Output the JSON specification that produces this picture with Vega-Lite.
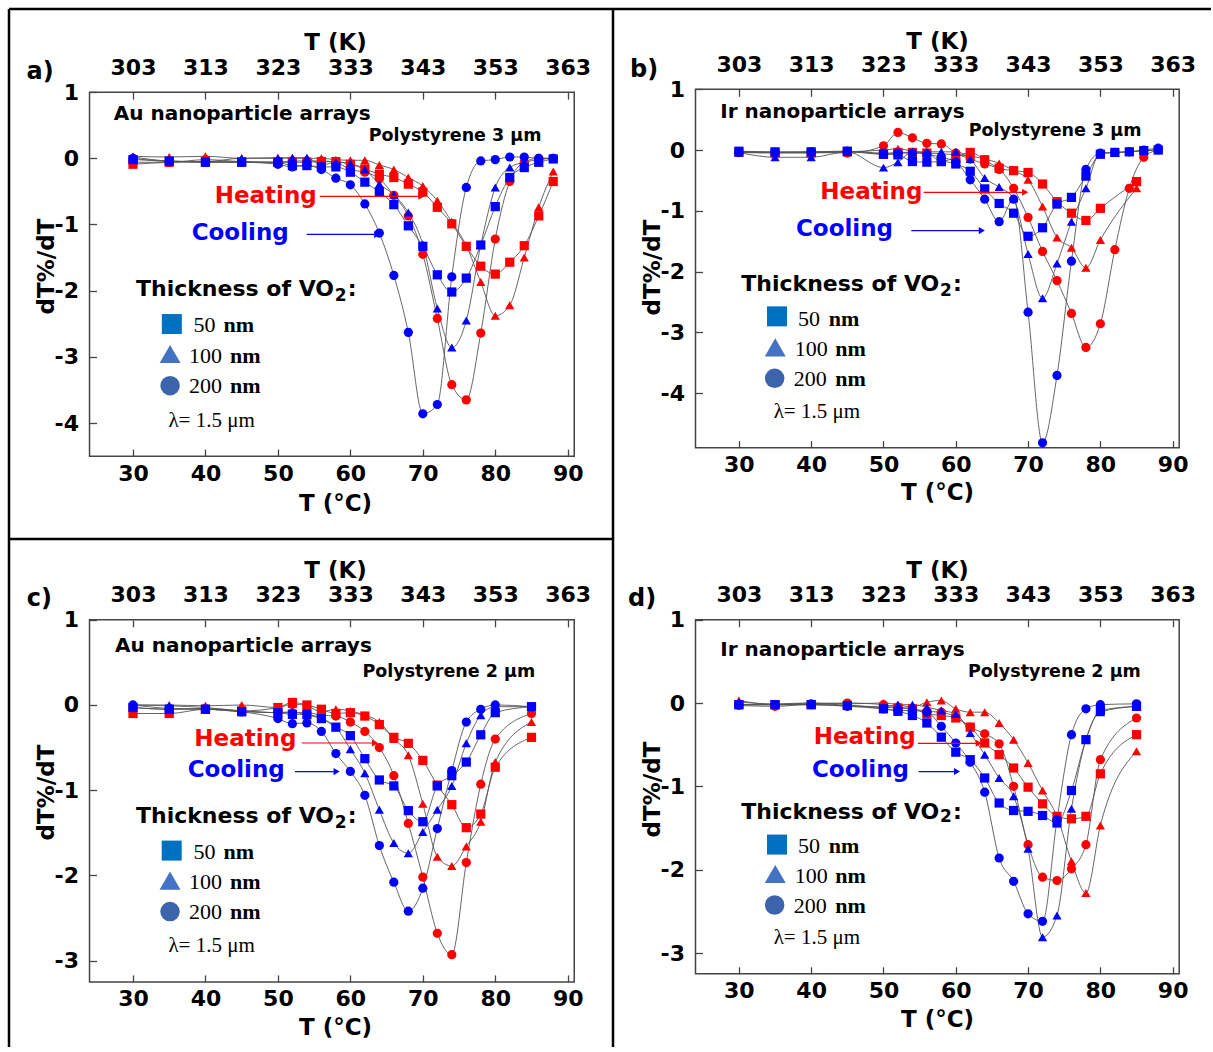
{
"$schema":"https://vega.github.io/schema/vega-lite/v6.json",
"padding":{"left":7,"top":7,"right":0,"bottom":0},
"bounds":"flush",
"spacing":0,
"columns":2,
"config":{
 "view":{"stroke":null},
 "font":"DejaVu Sans",
 "text":{"font":"DejaVu Sans","fontWeight":"bold","align":"left","baseline":"middle","color":"black"},
 "axis":{"domain":false,"grid":false,"labelFont":"DejaVu Sans","labelFontWeight":"bold","labelFontSize":22,"labelColor":"black","titleFont":"DejaVu Sans","titleFontWeight":"bold","titleFontSize":23,"titleColor":"black","tickColor":"#444","tickWidth":1.3,"tickSize":-7,"labelPadding":18,"titleBaseline":"middle","titleAlign":"center","labelFlush":false,"labelOverlap":false,"labelBound":false},
 "axisTop":{"labelPadding":20},
 "axisBottom":{"labelPadding":14}
},
"datasets":{"pts":[
{"p":"a","m":"H","t":50,"T":30,"v":-0.09},{"p":"a","m":"H","t":50,"T":35,"v":-0.06},{"p":"a","m":"H","t":50,"T":40,"v":-0.05},{"p":"a","m":"H","t":50,"T":45,"v":-0.05},{"p":"a","m":"H","t":50,"T":50,"v":-0.06},{"p":"a","m":"H","t":50,"T":52,"v":-0.06},{"p":"a","m":"H","t":50,"T":54,"v":-0.06},{"p":"a","m":"H","t":50,"T":56,"v":-0.05},{"p":"a","m":"H","t":50,"T":58,"v":-0.05},{"p":"a","m":"H","t":50,"T":60,"v":-0.09},{"p":"a","m":"H","t":50,"T":62,"v":-0.16},{"p":"a","m":"H","t":50,"T":64,"v":-0.24},{"p":"a","m":"H","t":50,"T":66,"v":-0.29},{"p":"a","m":"H","t":50,"T":68,"v":-0.39},{"p":"a","m":"H","t":50,"T":70,"v":-0.51},{"p":"a","m":"H","t":50,"T":72,"v":-0.74},{"p":"a","m":"H","t":50,"T":74,"v":-0.99},{"p":"a","m":"H","t":50,"T":76,"v":-1.33},{"p":"a","m":"H","t":50,"T":78,"v":-1.63},{"p":"a","m":"H","t":50,"T":80,"v":-1.75},{"p":"a","m":"H","t":50,"T":82,"v":-1.57},{"p":"a","m":"H","t":50,"T":84,"v":-1.32},{"p":"a","m":"H","t":50,"T":86,"v":-0.87},{"p":"a","m":"H","t":50,"T":88,"v":-0.35},
{"p":"a","m":"H","t":100,"T":30,"v":0.03},{"p":"a","m":"H","t":100,"T":35,"v":0.02},{"p":"a","m":"H","t":100,"T":40,"v":0.03},{"p":"a","m":"H","t":100,"T":45,"v":0.0},{"p":"a","m":"H","t":100,"T":50,"v":0.01},{"p":"a","m":"H","t":100,"T":52,"v":0.0},{"p":"a","m":"H","t":100,"T":54,"v":0.0},{"p":"a","m":"H","t":100,"T":56,"v":0.0},{"p":"a","m":"H","t":100,"T":58,"v":-0.02},{"p":"a","m":"H","t":100,"T":60,"v":-0.03},{"p":"a","m":"H","t":100,"T":62,"v":-0.03},{"p":"a","m":"H","t":100,"T":64,"v":-0.1},{"p":"a","m":"H","t":100,"T":66,"v":-0.17},{"p":"a","m":"H","t":100,"T":68,"v":-0.29},{"p":"a","m":"H","t":100,"T":70,"v":-0.42},{"p":"a","m":"H","t":100,"T":72,"v":-0.64},{"p":"a","m":"H","t":100,"T":74,"v":-0.96},{"p":"a","m":"H","t":100,"T":76,"v":-1.32},{"p":"a","m":"H","t":100,"T":78,"v":-1.87},{"p":"a","m":"H","t":100,"T":80,"v":-2.38},{"p":"a","m":"H","t":100,"T":82,"v":-2.22},{"p":"a","m":"H","t":100,"T":84,"v":-1.5},{"p":"a","m":"H","t":100,"T":86,"v":-0.74},{"p":"a","m":"H","t":100,"T":88,"v":-0.2},
{"p":"a","m":"H","t":200,"T":30,"v":-0.06},{"p":"a","m":"H","t":200,"T":35,"v":-0.06},{"p":"a","m":"H","t":200,"T":40,"v":-0.02},{"p":"a","m":"H","t":200,"T":45,"v":-0.05},{"p":"a","m":"H","t":200,"T":50,"v":-0.06},{"p":"a","m":"H","t":200,"T":52,"v":-0.04},{"p":"a","m":"H","t":200,"T":54,"v":-0.04},{"p":"a","m":"H","t":200,"T":56,"v":-0.04},{"p":"a","m":"H","t":200,"T":58,"v":-0.06},{"p":"a","m":"H","t":200,"T":60,"v":-0.17},{"p":"a","m":"H","t":200,"T":62,"v":-0.21},{"p":"a","m":"H","t":200,"T":64,"v":-0.31},{"p":"a","m":"H","t":200,"T":66,"v":-0.56},{"p":"a","m":"H","t":200,"T":68,"v":-0.87},{"p":"a","m":"H","t":200,"T":70,"v":-1.45},{"p":"a","m":"H","t":200,"T":72,"v":-2.42},{"p":"a","m":"H","t":200,"T":74,"v":-3.42},{"p":"a","m":"H","t":200,"T":76,"v":-3.65},{"p":"a","m":"H","t":200,"T":78,"v":-2.64},{"p":"a","m":"H","t":200,"T":80,"v":-1.22},{"p":"a","m":"H","t":200,"T":82,"v":-0.35},{"p":"a","m":"H","t":200,"T":84,"v":-0.06},{"p":"a","m":"H","t":200,"T":86,"v":0.0},{"p":"a","m":"H","t":200,"T":88,"v":0.0},
{"p":"a","m":"C","t":50,"T":30,"v":-0.02},{"p":"a","m":"C","t":50,"T":35,"v":-0.04},{"p":"a","m":"C","t":50,"T":40,"v":-0.06},{"p":"a","m":"C","t":50,"T":45,"v":-0.06},{"p":"a","m":"C","t":50,"T":50,"v":-0.06},{"p":"a","m":"C","t":50,"T":52,"v":-0.11},{"p":"a","m":"C","t":50,"T":54,"v":-0.11},{"p":"a","m":"C","t":50,"T":56,"v":-0.13},{"p":"a","m":"C","t":50,"T":58,"v":-0.13},{"p":"a","m":"C","t":50,"T":60,"v":-0.21},{"p":"a","m":"C","t":50,"T":62,"v":-0.36},{"p":"a","m":"C","t":50,"T":64,"v":-0.51},{"p":"a","m":"C","t":50,"T":66,"v":-0.7},{"p":"a","m":"C","t":50,"T":68,"v":-1.02},{"p":"a","m":"C","t":50,"T":70,"v":-1.33},{"p":"a","m":"C","t":50,"T":72,"v":-1.76},{"p":"a","m":"C","t":50,"T":74,"v":-2.02},{"p":"a","m":"C","t":50,"T":76,"v":-1.81},{"p":"a","m":"C","t":50,"T":78,"v":-1.31},{"p":"a","m":"C","t":50,"T":80,"v":-0.73},{"p":"a","m":"C","t":50,"T":82,"v":-0.29},{"p":"a","m":"C","t":50,"T":84,"v":-0.14},{"p":"a","m":"C","t":50,"T":86,"v":-0.06},{"p":"a","m":"C","t":50,"T":88,"v":-0.01},
{"p":"a","m":"C","t":100,"T":30,"v":0.02},{"p":"a","m":"C","t":100,"T":35,"v":-0.04},{"p":"a","m":"C","t":100,"T":40,"v":-0.05},{"p":"a","m":"C","t":100,"T":45,"v":0.0},{"p":"a","m":"C","t":100,"T":50,"v":0.0},{"p":"a","m":"C","t":100,"T":52,"v":0.01},{"p":"a","m":"C","t":100,"T":54,"v":0.01},{"p":"a","m":"C","t":100,"T":56,"v":-0.1},{"p":"a","m":"C","t":100,"T":58,"v":-0.06},{"p":"a","m":"C","t":100,"T":60,"v":-0.08},{"p":"a","m":"C","t":100,"T":62,"v":-0.17},{"p":"a","m":"C","t":100,"T":64,"v":-0.39},{"p":"a","m":"C","t":100,"T":66,"v":-0.55},{"p":"a","m":"C","t":100,"T":68,"v":-0.82},{"p":"a","m":"C","t":100,"T":70,"v":-1.3},{"p":"a","m":"C","t":100,"T":72,"v":-2.27},{"p":"a","m":"C","t":100,"T":74,"v":-2.86},{"p":"a","m":"C","t":100,"T":76,"v":-2.45},{"p":"a","m":"C","t":100,"T":78,"v":-1.31},{"p":"a","m":"C","t":100,"T":80,"v":-0.44},{"p":"a","m":"C","t":100,"T":82,"v":-0.14},{"p":"a","m":"C","t":100,"T":84,"v":-0.06},{"p":"a","m":"C","t":100,"T":86,"v":-0.02},{"p":"a","m":"C","t":100,"T":88,"v":0.0},
{"p":"a","m":"C","t":200,"T":30,"v":0.0},{"p":"a","m":"C","t":200,"T":35,"v":-0.05},{"p":"a","m":"C","t":200,"T":40,"v":-0.06},{"p":"a","m":"C","t":200,"T":45,"v":-0.06},{"p":"a","m":"C","t":200,"T":50,"v":-0.09},{"p":"a","m":"C","t":200,"T":52,"v":-0.13},{"p":"a","m":"C","t":200,"T":54,"v":-0.11},{"p":"a","m":"C","t":200,"T":56,"v":-0.17},{"p":"a","m":"C","t":200,"T":58,"v":-0.3},{"p":"a","m":"C","t":200,"T":60,"v":-0.4},{"p":"a","m":"C","t":200,"T":62,"v":-0.69},{"p":"a","m":"C","t":200,"T":64,"v":-1.13},{"p":"a","m":"C","t":200,"T":66,"v":-1.77},{"p":"a","m":"C","t":200,"T":68,"v":-2.63},{"p":"a","m":"C","t":200,"T":70,"v":-3.86},{"p":"a","m":"C","t":200,"T":72,"v":-3.72},{"p":"a","m":"C","t":200,"T":74,"v":-1.79},{"p":"a","m":"C","t":200,"T":76,"v":-0.44},{"p":"a","m":"C","t":200,"T":78,"v":-0.04},{"p":"a","m":"C","t":200,"T":80,"v":-0.02},{"p":"a","m":"C","t":200,"T":82,"v":0.02},{"p":"a","m":"C","t":200,"T":84,"v":0.02},{"p":"a","m":"C","t":200,"T":86,"v":0.0},{"p":"a","m":"C","t":200,"T":88,"v":0.0},
{"p":"b","m":"H","t":50,"T":30,"v":-0.04},{"p":"b","m":"H","t":50,"T":35,"v":-0.05},{"p":"b","m":"H","t":50,"T":40,"v":-0.05},{"p":"b","m":"H","t":50,"T":45,"v":-0.03},{"p":"b","m":"H","t":50,"T":50,"v":-0.07},{"p":"b","m":"H","t":50,"T":52,"v":-0.04},{"p":"b","m":"H","t":50,"T":54,"v":-0.04},{"p":"b","m":"H","t":50,"T":56,"v":-0.05},{"p":"b","m":"H","t":50,"T":58,"v":-0.19},{"p":"b","m":"H","t":50,"T":60,"v":-0.12},{"p":"b","m":"H","t":50,"T":62,"v":-0.04},{"p":"b","m":"H","t":50,"T":64,"v":-0.16},{"p":"b","m":"H","t":50,"T":66,"v":-0.3},{"p":"b","m":"H","t":50,"T":68,"v":-0.34},{"p":"b","m":"H","t":50,"T":70,"v":-0.37},{"p":"b","m":"H","t":50,"T":72,"v":-0.56},{"p":"b","m":"H","t":50,"T":74,"v":-0.85},{"p":"b","m":"H","t":50,"T":76,"v":-1.04},{"p":"b","m":"H","t":50,"T":78,"v":-1.16},{"p":"b","m":"H","t":50,"T":80,"v":-0.96},{"p":"b","m":"H","t":50,"T":85,"v":-0.52},
{"p":"b","m":"H","t":100,"T":30,"v":-0.02},{"p":"b","m":"H","t":100,"T":35,"v":-0.04},{"p":"b","m":"H","t":100,"T":40,"v":-0.04},{"p":"b","m":"H","t":100,"T":45,"v":-0.03},{"p":"b","m":"H","t":100,"T":50,"v":0.0},{"p":"b","m":"H","t":100,"T":52,"v":0.02},{"p":"b","m":"H","t":100,"T":54,"v":-0.02},{"p":"b","m":"H","t":100,"T":56,"v":-0.05},{"p":"b","m":"H","t":100,"T":58,"v":-0.06},{"p":"b","m":"H","t":100,"T":60,"v":-0.08},{"p":"b","m":"H","t":100,"T":62,"v":-0.1},{"p":"b","m":"H","t":100,"T":64,"v":-0.15},{"p":"b","m":"H","t":100,"T":66,"v":-0.22},{"p":"b","m":"H","t":100,"T":68,"v":-0.34},{"p":"b","m":"H","t":100,"T":70,"v":-0.49},{"p":"b","m":"H","t":100,"T":72,"v":-0.93},{"p":"b","m":"H","t":100,"T":74,"v":-1.44},{"p":"b","m":"H","t":100,"T":76,"v":-1.61},{"p":"b","m":"H","t":100,"T":78,"v":-1.94},{"p":"b","m":"H","t":100,"T":80,"v":-1.48},{"p":"b","m":"H","t":100,"T":85,"v":-0.63},
{"p":"b","m":"H","t":200,"T":30,"v":-0.03},{"p":"b","m":"H","t":200,"T":35,"v":-0.04},{"p":"b","m":"H","t":200,"T":40,"v":-0.04},{"p":"b","m":"H","t":200,"T":45,"v":-0.05},{"p":"b","m":"H","t":200,"T":50,"v":0.07},{"p":"b","m":"H","t":200,"T":52,"v":0.29},{"p":"b","m":"H","t":200,"T":54,"v":0.2},{"p":"b","m":"H","t":200,"T":56,"v":0.11},{"p":"b","m":"H","t":200,"T":58,"v":0.1},{"p":"b","m":"H","t":200,"T":60,"v":-0.05},{"p":"b","m":"H","t":200,"T":62,"v":-0.15},{"p":"b","m":"H","t":200,"T":64,"v":-0.23},{"p":"b","m":"H","t":200,"T":66,"v":-0.32},{"p":"b","m":"H","t":200,"T":68,"v":-0.63},{"p":"b","m":"H","t":200,"T":70,"v":-1.11},{"p":"b","m":"H","t":200,"T":72,"v":-1.67},{"p":"b","m":"H","t":200,"T":74,"v":-2.15},{"p":"b","m":"H","t":200,"T":76,"v":-2.69},{"p":"b","m":"H","t":200,"T":78,"v":-3.25},{"p":"b","m":"H","t":200,"T":80,"v":-2.86},{"p":"b","m":"H","t":200,"T":82,"v":-1.64},{"p":"b","m":"H","t":200,"T":84,"v":-0.63},{"p":"b","m":"H","t":200,"T":86,"v":-0.12},{"p":"b","m":"H","t":200,"T":88,"v":0.0},
{"p":"b","m":"C","t":50,"T":30,"v":-0.02},{"p":"b","m":"C","t":50,"T":35,"v":-0.03},{"p":"b","m":"C","t":50,"T":40,"v":-0.03},{"p":"b","m":"C","t":50,"T":45,"v":-0.02},{"p":"b","m":"C","t":50,"T":50,"v":-0.07},{"p":"b","m":"C","t":50,"T":52,"v":-0.08},{"p":"b","m":"C","t":50,"T":54,"v":-0.19},{"p":"b","m":"C","t":50,"T":56,"v":-0.2},{"p":"b","m":"C","t":50,"T":58,"v":-0.19},{"p":"b","m":"C","t":50,"T":60,"v":-0.23},{"p":"b","m":"C","t":50,"T":62,"v":-0.35},{"p":"b","m":"C","t":50,"T":64,"v":-0.64},{"p":"b","m":"C","t":50,"T":66,"v":-0.88},{"p":"b","m":"C","t":50,"T":68,"v":-1.04},{"p":"b","m":"C","t":50,"T":70,"v":-1.42},{"p":"b","m":"C","t":50,"T":72,"v":-1.28},{"p":"b","m":"C","t":50,"T":74,"v":-0.89},{"p":"b","m":"C","t":50,"T":76,"v":-0.78},{"p":"b","m":"C","t":50,"T":78,"v":-0.43},{"p":"b","m":"C","t":50,"T":80,"v":-0.07},{"p":"b","m":"C","t":50,"T":82,"v":-0.04},{"p":"b","m":"C","t":50,"T":84,"v":-0.03},{"p":"b","m":"C","t":50,"T":86,"v":-0.01},{"p":"b","m":"C","t":50,"T":88,"v":0.0},
{"p":"b","m":"C","t":100,"T":30,"v":-0.04},{"p":"b","m":"C","t":100,"T":35,"v":-0.12},{"p":"b","m":"C","t":100,"T":40,"v":-0.12},{"p":"b","m":"C","t":100,"T":45,"v":-0.03},{"p":"b","m":"C","t":100,"T":50,"v":-0.29},{"p":"b","m":"C","t":100,"T":52,"v":-0.2},{"p":"b","m":"C","t":100,"T":54,"v":-0.03},{"p":"b","m":"C","t":100,"T":56,"v":-0.03},{"p":"b","m":"C","t":100,"T":58,"v":-0.03},{"p":"b","m":"C","t":100,"T":60,"v":-0.03},{"p":"b","m":"C","t":100,"T":62,"v":-0.15},{"p":"b","m":"C","t":100,"T":64,"v":-0.46},{"p":"b","m":"C","t":100,"T":66,"v":-0.61},{"p":"b","m":"C","t":100,"T":68,"v":-0.8},{"p":"b","m":"C","t":100,"T":70,"v":-1.71},{"p":"b","m":"C","t":100,"T":72,"v":-2.44},{"p":"b","m":"C","t":100,"T":74,"v":-1.87},{"p":"b","m":"C","t":100,"T":76,"v":-1.18},{"p":"b","m":"C","t":100,"T":78,"v":-0.63},{"p":"b","m":"C","t":100,"T":80,"v":-0.05},{"p":"b","m":"C","t":100,"T":82,"v":-0.04},{"p":"b","m":"C","t":100,"T":84,"v":-0.03},{"p":"b","m":"C","t":100,"T":86,"v":-0.01},{"p":"b","m":"C","t":100,"T":88,"v":0.0},
{"p":"b","m":"C","t":200,"T":30,"v":-0.04},{"p":"b","m":"C","t":200,"T":35,"v":-0.04},{"p":"b","m":"C","t":200,"T":40,"v":-0.03},{"p":"b","m":"C","t":200,"T":45,"v":-0.02},{"p":"b","m":"C","t":200,"T":50,"v":-0.05},{"p":"b","m":"C","t":200,"T":52,"v":-0.05},{"p":"b","m":"C","t":200,"T":54,"v":-0.05},{"p":"b","m":"C","t":200,"T":56,"v":-0.07},{"p":"b","m":"C","t":200,"T":58,"v":-0.12},{"p":"b","m":"C","t":200,"T":60,"v":-0.2},{"p":"b","m":"C","t":200,"T":62,"v":-0.49},{"p":"b","m":"C","t":200,"T":64,"v":-0.81},{"p":"b","m":"C","t":200,"T":66,"v":-1.18},{"p":"b","m":"C","t":200,"T":68,"v":-0.81},{"p":"b","m":"C","t":200,"T":70,"v":-2.67},{"p":"b","m":"C","t":200,"T":72,"v":-4.82},{"p":"b","m":"C","t":200,"T":74,"v":-3.71},{"p":"b","m":"C","t":200,"T":76,"v":-1.83},{"p":"b","m":"C","t":200,"T":78,"v":-0.32},{"p":"b","m":"C","t":200,"T":80,"v":-0.05},{"p":"b","m":"C","t":200,"T":82,"v":-0.04},{"p":"b","m":"C","t":200,"T":84,"v":-0.03},{"p":"b","m":"C","t":200,"T":86,"v":0.0},{"p":"b","m":"C","t":200,"T":88,"v":0.03},
{"p":"c","m":"H","t":50,"T":30,"v":-0.1},{"p":"c","m":"H","t":50,"T":35,"v":-0.1},{"p":"c","m":"H","t":50,"T":40,"v":-0.05},{"p":"c","m":"H","t":50,"T":45,"v":-0.07},{"p":"c","m":"H","t":50,"T":50,"v":-0.03},{"p":"c","m":"H","t":50,"T":52,"v":0.03},{"p":"c","m":"H","t":50,"T":54,"v":0.0},{"p":"c","m":"H","t":50,"T":56,"v":-0.05},{"p":"c","m":"H","t":50,"T":58,"v":-0.1},{"p":"c","m":"H","t":50,"T":60,"v":-0.09},{"p":"c","m":"H","t":50,"T":62,"v":-0.13},{"p":"c","m":"H","t":50,"T":64,"v":-0.23},{"p":"c","m":"H","t":50,"T":66,"v":-0.38},{"p":"c","m":"H","t":50,"T":68,"v":-0.45},{"p":"c","m":"H","t":50,"T":70,"v":-0.65},{"p":"c","m":"H","t":50,"T":72,"v":-0.94},{"p":"c","m":"H","t":50,"T":74,"v":-1.17},{"p":"c","m":"H","t":50,"T":76,"v":-1.44},{"p":"c","m":"H","t":50,"T":78,"v":-1.28},{"p":"c","m":"H","t":50,"T":80,"v":-0.73},{"p":"c","m":"H","t":50,"T":85,"v":-0.38},
{"p":"c","m":"H","t":100,"T":30,"v":0.0},{"p":"c","m":"H","t":100,"T":35,"v":0.0},{"p":"c","m":"H","t":100,"T":40,"v":-0.01},{"p":"c","m":"H","t":100,"T":45,"v":0.0},{"p":"c","m":"H","t":100,"T":50,"v":-0.03},{"p":"c","m":"H","t":100,"T":52,"v":0.01},{"p":"c","m":"H","t":100,"T":54,"v":-0.01},{"p":"c","m":"H","t":100,"T":56,"v":-0.08},{"p":"c","m":"H","t":100,"T":58,"v":-0.05},{"p":"c","m":"H","t":100,"T":60,"v":-0.07},{"p":"c","m":"H","t":100,"T":62,"v":-0.12},{"p":"c","m":"H","t":100,"T":64,"v":-0.2},{"p":"c","m":"H","t":100,"T":66,"v":-0.4},{"p":"c","m":"H","t":100,"T":68,"v":-0.59},{"p":"c","m":"H","t":100,"T":70,"v":-1.16},{"p":"c","m":"H","t":100,"T":72,"v":-1.78},{"p":"c","m":"H","t":100,"T":74,"v":-1.89},{"p":"c","m":"H","t":100,"T":76,"v":-1.66},{"p":"c","m":"H","t":100,"T":78,"v":-1.37},{"p":"c","m":"H","t":100,"T":80,"v":-0.67},{"p":"c","m":"H","t":100,"T":85,"v":-0.2},
{"p":"c","m":"H","t":200,"T":30,"v":-0.03},{"p":"c","m":"H","t":200,"T":35,"v":-0.05},{"p":"c","m":"H","t":200,"T":40,"v":-0.04},{"p":"c","m":"H","t":200,"T":45,"v":-0.07},{"p":"c","m":"H","t":200,"T":50,"v":-0.09},{"p":"c","m":"H","t":200,"T":52,"v":-0.09},{"p":"c","m":"H","t":200,"T":54,"v":-0.09},{"p":"c","m":"H","t":200,"T":56,"v":-0.12},{"p":"c","m":"H","t":200,"T":58,"v":-0.13},{"p":"c","m":"H","t":200,"T":60,"v":-0.2},{"p":"c","m":"H","t":200,"T":62,"v":-0.31},{"p":"c","m":"H","t":200,"T":64,"v":-0.5},{"p":"c","m":"H","t":200,"T":66,"v":-0.83},{"p":"c","m":"H","t":200,"T":68,"v":-1.39},{"p":"c","m":"H","t":200,"T":70,"v":-2.02},{"p":"c","m":"H","t":200,"T":72,"v":-2.68},{"p":"c","m":"H","t":200,"T":74,"v":-2.93},{"p":"c","m":"H","t":200,"T":76,"v":-1.85},{"p":"c","m":"H","t":200,"T":78,"v":-0.93},{"p":"c","m":"H","t":200,"T":80,"v":-0.4},{"p":"c","m":"H","t":200,"T":85,"v":-0.1},
{"p":"c","m":"C","t":50,"T":30,"v":-0.03},{"p":"c","m":"C","t":50,"T":35,"v":-0.05},{"p":"c","m":"C","t":50,"T":40,"v":-0.05},{"p":"c","m":"C","t":50,"T":45,"v":-0.08},{"p":"c","m":"C","t":50,"T":50,"v":-0.09},{"p":"c","m":"C","t":50,"T":52,"v":-0.11},{"p":"c","m":"C","t":50,"T":54,"v":-0.11},{"p":"c","m":"C","t":50,"T":56,"v":-0.16},{"p":"c","m":"C","t":50,"T":58,"v":-0.26},{"p":"c","m":"C","t":50,"T":60,"v":-0.36},{"p":"c","m":"C","t":50,"T":62,"v":-0.63},{"p":"c","m":"C","t":50,"T":64,"v":-0.88},{"p":"c","m":"C","t":50,"T":66,"v":-0.95},{"p":"c","m":"C","t":50,"T":68,"v":-1.24},{"p":"c","m":"C","t":50,"T":70,"v":-1.37},{"p":"c","m":"C","t":50,"T":72,"v":-0.95},{"p":"c","m":"C","t":50,"T":74,"v":-0.83},{"p":"c","m":"C","t":50,"T":76,"v":-0.67},{"p":"c","m":"C","t":50,"T":78,"v":-0.35},{"p":"c","m":"C","t":50,"T":80,"v":-0.09},{"p":"c","m":"C","t":50,"T":85,"v":-0.02},
{"p":"c","m":"C","t":100,"T":30,"v":0.0},{"p":"c","m":"C","t":100,"T":35,"v":-0.01},{"p":"c","m":"C","t":100,"T":40,"v":-0.03},{"p":"c","m":"C","t":100,"T":45,"v":-0.07},{"p":"c","m":"C","t":100,"T":50,"v":-0.09},{"p":"c","m":"C","t":100,"T":52,"v":-0.08},{"p":"c","m":"C","t":100,"T":54,"v":-0.12},{"p":"c","m":"C","t":100,"T":56,"v":-0.16},{"p":"c","m":"C","t":100,"T":58,"v":-0.26},{"p":"c","m":"C","t":100,"T":60,"v":-0.52},{"p":"c","m":"C","t":100,"T":62,"v":-0.8},{"p":"c","m":"C","t":100,"T":64,"v":-1.23},{"p":"c","m":"C","t":100,"T":66,"v":-1.62},{"p":"c","m":"C","t":100,"T":68,"v":-1.74},{"p":"c","m":"C","t":100,"T":70,"v":-1.49},{"p":"c","m":"C","t":100,"T":72,"v":-1.23},{"p":"c","m":"C","t":100,"T":74,"v":-0.95},{"p":"c","m":"C","t":100,"T":76,"v":-0.45},{"p":"c","m":"C","t":100,"T":78,"v":-0.12},{"p":"c","m":"C","t":100,"T":80,"v":-0.02},{"p":"c","m":"C","t":100,"T":85,"v":-0.02},
{"p":"c","m":"C","t":200,"T":30,"v":0.0},{"p":"c","m":"C","t":200,"T":35,"v":-0.04},{"p":"c","m":"C","t":200,"T":40,"v":-0.05},{"p":"c","m":"C","t":200,"T":45,"v":-0.08},{"p":"c","m":"C","t":200,"T":50,"v":-0.16},{"p":"c","m":"C","t":200,"T":52,"v":-0.22},{"p":"c","m":"C","t":200,"T":54,"v":-0.21},{"p":"c","m":"C","t":200,"T":56,"v":-0.31},{"p":"c","m":"C","t":200,"T":58,"v":-0.57},{"p":"c","m":"C","t":200,"T":60,"v":-0.78},{"p":"c","m":"C","t":200,"T":62,"v":-1.06},{"p":"c","m":"C","t":200,"T":64,"v":-1.65},{"p":"c","m":"C","t":200,"T":66,"v":-2.08},{"p":"c","m":"C","t":200,"T":68,"v":-2.42},{"p":"c","m":"C","t":200,"T":70,"v":-2.15},{"p":"c","m":"C","t":200,"T":72,"v":-1.45},{"p":"c","m":"C","t":200,"T":74,"v":-0.77},{"p":"c","m":"C","t":200,"T":76,"v":-0.2},{"p":"c","m":"C","t":200,"T":78,"v":-0.05},{"p":"c","m":"C","t":200,"T":80,"v":0.0},{"p":"c","m":"C","t":200,"T":85,"v":-0.02},
{"p":"d","m":"H","t":50,"T":30,"v":-0.02},{"p":"d","m":"H","t":50,"T":35,"v":-0.02},{"p":"d","m":"H","t":50,"T":40,"v":-0.02},{"p":"d","m":"H","t":50,"T":45,"v":-0.03},{"p":"d","m":"H","t":50,"T":50,"v":-0.05},{"p":"d","m":"H","t":50,"T":52,"v":-0.06},{"p":"d","m":"H","t":50,"T":54,"v":-0.07},{"p":"d","m":"H","t":50,"T":56,"v":-0.13},{"p":"d","m":"H","t":50,"T":58,"v":-0.15},{"p":"d","m":"H","t":50,"T":60,"v":-0.18},{"p":"d","m":"H","t":50,"T":62,"v":-0.29},{"p":"d","m":"H","t":50,"T":64,"v":-0.48},{"p":"d","m":"H","t":50,"T":66,"v":-0.62},{"p":"d","m":"H","t":50,"T":68,"v":-0.78},{"p":"d","m":"H","t":50,"T":70,"v":-1.01},{"p":"d","m":"H","t":50,"T":72,"v":-1.21},{"p":"d","m":"H","t":50,"T":74,"v":-1.36},{"p":"d","m":"H","t":50,"T":76,"v":-1.39},{"p":"d","m":"H","t":50,"T":78,"v":-1.36},{"p":"d","m":"H","t":50,"T":80,"v":-0.85},{"p":"d","m":"H","t":50,"T":85,"v":-0.38},
{"p":"d","m":"H","t":100,"T":30,"v":0.03},{"p":"d","m":"H","t":100,"T":35,"v":-0.02},{"p":"d","m":"H","t":100,"T":40,"v":0.0},{"p":"d","m":"H","t":100,"T":45,"v":-0.01},{"p":"d","m":"H","t":100,"T":50,"v":0.0},{"p":"d","m":"H","t":100,"T":52,"v":-0.02},{"p":"d","m":"H","t":100,"T":54,"v":-0.05},{"p":"d","m":"H","t":100,"T":56,"v":0.01},{"p":"d","m":"H","t":100,"T":58,"v":0.03},{"p":"d","m":"H","t":100,"T":60,"v":-0.07},{"p":"d","m":"H","t":100,"T":62,"v":-0.11},{"p":"d","m":"H","t":100,"T":64,"v":-0.11},{"p":"d","m":"H","t":100,"T":66,"v":-0.24},{"p":"d","m":"H","t":100,"T":68,"v":-0.44},{"p":"d","m":"H","t":100,"T":70,"v":-0.72},{"p":"d","m":"H","t":100,"T":72,"v":-1.05},{"p":"d","m":"H","t":100,"T":74,"v":-1.36},{"p":"d","m":"H","t":100,"T":76,"v":-1.9},{"p":"d","m":"H","t":100,"T":78,"v":-2.28},{"p":"d","m":"H","t":100,"T":80,"v":-1.47},{"p":"d","m":"H","t":100,"T":85,"v":-0.58},
{"p":"d","m":"H","t":200,"T":30,"v":-0.03},{"p":"d","m":"H","t":200,"T":35,"v":-0.04},{"p":"d","m":"H","t":200,"T":40,"v":-0.01},{"p":"d","m":"H","t":200,"T":45,"v":0.0},{"p":"d","m":"H","t":200,"T":50,"v":-0.02},{"p":"d","m":"H","t":200,"T":52,"v":-0.05},{"p":"d","m":"H","t":200,"T":54,"v":-0.07},{"p":"d","m":"H","t":200,"T":56,"v":-0.1},{"p":"d","m":"H","t":200,"T":58,"v":-0.11},{"p":"d","m":"H","t":200,"T":60,"v":-0.17},{"p":"d","m":"H","t":200,"T":62,"v":-0.29},{"p":"d","m":"H","t":200,"T":64,"v":-0.37},{"p":"d","m":"H","t":200,"T":66,"v":-0.49},{"p":"d","m":"H","t":200,"T":68,"v":-1.0},{"p":"d","m":"H","t":200,"T":70,"v":-1.7},{"p":"d","m":"H","t":200,"T":72,"v":-2.09},{"p":"d","m":"H","t":200,"T":74,"v":-2.13},{"p":"d","m":"H","t":200,"T":76,"v":-1.99},{"p":"d","m":"H","t":200,"T":78,"v":-1.7},{"p":"d","m":"H","t":200,"T":80,"v":-0.68},{"p":"d","m":"H","t":200,"T":85,"v":-0.18},
{"p":"d","m":"C","t":50,"T":30,"v":-0.02},{"p":"d","m":"C","t":50,"T":35,"v":-0.02},{"p":"d","m":"C","t":50,"T":40,"v":-0.02},{"p":"d","m":"C","t":50,"T":45,"v":-0.03},{"p":"d","m":"C","t":50,"T":50,"v":-0.07},{"p":"d","m":"C","t":50,"T":52,"v":-0.1},{"p":"d","m":"C","t":50,"T":54,"v":-0.15},{"p":"d","m":"C","t":50,"T":56,"v":-0.24},{"p":"d","m":"C","t":50,"T":58,"v":-0.41},{"p":"d","m":"C","t":50,"T":60,"v":-0.59},{"p":"d","m":"C","t":50,"T":62,"v":-0.68},{"p":"d","m":"C","t":50,"T":64,"v":-0.9},{"p":"d","m":"C","t":50,"T":66,"v":-1.2},{"p":"d","m":"C","t":50,"T":68,"v":-1.29},{"p":"d","m":"C","t":50,"T":70,"v":-1.3},{"p":"d","m":"C","t":50,"T":72,"v":-1.35},{"p":"d","m":"C","t":50,"T":74,"v":-1.44},{"p":"d","m":"C","t":50,"T":76,"v":-1.05},{"p":"d","m":"C","t":50,"T":78,"v":-0.44},{"p":"d","m":"C","t":50,"T":80,"v":-0.09},{"p":"d","m":"C","t":50,"T":85,"v":-0.04},
{"p":"d","m":"C","t":100,"T":30,"v":0.01},{"p":"d","m":"C","t":100,"T":35,"v":-0.01},{"p":"d","m":"C","t":100,"T":40,"v":0.0},{"p":"d","m":"C","t":100,"T":45,"v":-0.03},{"p":"d","m":"C","t":100,"T":50,"v":-0.05},{"p":"d","m":"C","t":100,"T":52,"v":-0.02},{"p":"d","m":"C","t":100,"T":54,"v":-0.02},{"p":"d","m":"C","t":100,"T":56,"v":-0.05},{"p":"d","m":"C","t":100,"T":58,"v":-0.09},{"p":"d","m":"C","t":100,"T":60,"v":-0.13},{"p":"d","m":"C","t":100,"T":62,"v":-0.36},{"p":"d","m":"C","t":100,"T":64,"v":-0.62},{"p":"d","m":"C","t":100,"T":66,"v":-0.9},{"p":"d","m":"C","t":100,"T":68,"v":-1.12},{"p":"d","m":"C","t":100,"T":70,"v":-1.75},{"p":"d","m":"C","t":100,"T":72,"v":-2.81},{"p":"d","m":"C","t":100,"T":74,"v":-2.55},{"p":"d","m":"C","t":100,"T":76,"v":-1.27},{"p":"d","m":"C","t":100,"T":78,"v":-0.44},{"p":"d","m":"C","t":100,"T":80,"v":-0.11},{"p":"d","m":"C","t":100,"T":85,"v":-0.04},
{"p":"d","m":"C","t":200,"T":30,"v":-0.02},{"p":"d","m":"C","t":200,"T":35,"v":-0.02},{"p":"d","m":"C","t":200,"T":40,"v":-0.02},{"p":"d","m":"C","t":200,"T":45,"v":-0.04},{"p":"d","m":"C","t":200,"T":50,"v":-0.07},{"p":"d","m":"C","t":200,"T":52,"v":-0.09},{"p":"d","m":"C","t":200,"T":54,"v":-0.09},{"p":"d","m":"C","t":200,"T":56,"v":-0.11},{"p":"d","m":"C","t":200,"T":58,"v":-0.28},{"p":"d","m":"C","t":200,"T":60,"v":-0.48},{"p":"d","m":"C","t":200,"T":62,"v":-0.71},{"p":"d","m":"C","t":200,"T":64,"v":-1.07},{"p":"d","m":"C","t":200,"T":66,"v":-1.86},{"p":"d","m":"C","t":200,"T":68,"v":-2.14},{"p":"d","m":"C","t":200,"T":70,"v":-2.53},{"p":"d","m":"C","t":200,"T":72,"v":-2.62},{"p":"d","m":"C","t":200,"T":74,"v":-1.4},{"p":"d","m":"C","t":200,"T":76,"v":-0.38},{"p":"d","m":"C","t":200,"T":78,"v":-0.07},{"p":"d","m":"C","t":200,"T":80,"v":-0.02},{"p":"d","m":"C","t":200,"T":85,"v":-0.01}
]},
"concat":[
{"width":604,"height":530,"data":{"values":[{}]},"resolve":{"axis":{"x":"independent","y":"independent"}},"layer":[
 {"mark":{"type":"rule","color":"black","strokeWidth":2.5},"encoding":{"x":{"datum":12.885,"axis":null},"y":{"datum":-5.752,"axis":null},"y2":{"datum":2.256}}},
 {"mark":{"type":"rule","color":"black","strokeWidth":2.5},"encoding":{"x":{"datum":12.885,"axis":null},"x2":{"datum":96.25},"y":{"datum":2.256,"axis":null}}},
 {"mark":{"type":"rule","color":"black","strokeWidth":2.5},"encoding":{"x":{"datum":96.25,"axis":null},"y":{"datum":-5.752,"axis":null},"y2":{"datum":2.256}}},
 {"mark":{"type":"rule","color":"black","strokeWidth":2.5},"encoding":{"x":{"datum":12.885,"axis":null},"x2":{"datum":96.25},"y":{"datum":-5.752,"axis":null}}},
 {"mark":{"type":"rect","fillOpacity":0,"stroke":"#444","strokeWidth":1.5},"encoding":{
  "x":{"datum":24,"scale":{"domain":[12.885,96.25],"nice":false,"zero":false},"axis":null},
  "x2":{"datum":90.9},
  "y":{"datum":1,"scale":{"domain":[-5.752,2.256],"nice":false,"zero":false},"axis":null},
  "y2":{"datum":-4.5}}},
 {"data":{"name":"pts"},"transform":[{"filter":"datum.p=='a'"}],"mark":{"type":"line","color":"#555","strokeWidth":0.9,"interpolate":"monotone"},"encoding":{"x":{"field":"T","type":"quantitative","axis":{"orient":"top","offset":-83.1,"values":[30,40,50,60,70,80,90],"labelExpr":"''+(datum.value+273)","title":"T (K)","titleX":326,"titleY":-50}},"y":{"field":"v","type":"quantitative","axis":{"orient":"left","offset":-80.5,"values":[1,0,-1,-2,-3,-4],"labelExpr":"replace(datum.label,'−','-')","title":"dT%/dT","titleX":-43,"titleY":257}},"detail":[{"field":"m","type":"nominal"},{"field":"t","type":"nominal"}]}},
 {"data":{"name":"pts"},"transform":[{"filter":"datum.p=='a'"}],"mark":{"type":"point","filled":true,"size":85,"opacity":1},"encoding":{"x":{"field":"T","type":"quantitative","axis":{"orient":"bottom","offset":-82.9,"values":[30,40,50,60,70,80,90],"title":"T (°C)","titleX":326,"titleY":47}},"y":{"field":"v","type":"quantitative","axis":null},"color":{"field":"m","type":"nominal","scale":{"domain":["H","C"],"range":["#ff0000","#0000ff"]},"legend":null},"shape":{"field":"t","type":"nominal","scale":{"domain":[50,100,200],"range":["square","triangle-up","circle"]},"legend":null}}},
 {"mark":{"type":"text","text":"a)","fontSize":24},"encoding":{"x":{"datum":15.3,"axis":null},"y":{"datum":1.30,"axis":null}}},
 {"mark":{"type":"text","text":"Au nanoparticle arrays","fontSize":20},"encoding":{"x":{"datum":27.35,"axis":null},"y":{"datum":0.665,"axis":null}}},
 {"mark":{"type":"text","text":"Polystyrene 3 μm","fontSize":17.5},"encoding":{"x":{"datum":62.53,"axis":null},"y":{"datum":0.332,"axis":null}}},
 {"mark":{"type":"text","text":"Heating","fontSize":23,"color":"#ff0000"},"encoding":{"x":{"datum":41.28,"axis":null},"y":{"datum":-0.574,"axis":null}}},
 {"mark":{"type":"rule","color":"#ff0000","strokeWidth":1.2},"encoding":{"x":{"datum":55.78,"axis":null},"x2":{"datum":69.4},"y":{"datum":-0.574,"axis":null}}},
 {"mark":{"type":"point","shape":"triangle-right","filled":true,"size":50,"color":"#ff0000","opacity":1},"encoding":{"x":{"datum":69.8,"axis":null},"y":{"datum":-0.574,"axis":null}}},
 {"mark":{"type":"text","text":"Cooling","fontSize":23,"color":"#0000ff"},"encoding":{"x":{"datum":38.1,"axis":null},"y":{"datum":-1.133,"axis":null}}},
 {"mark":{"type":"rule","color":"#0000ff","strokeWidth":1.2},"encoding":{"x":{"datum":53.97,"axis":null},"x2":{"datum":63.3},"y":{"datum":-1.15,"axis":null}}},
 {"mark":{"type":"point","shape":"triangle-right","filled":true,"size":50,"color":"#0000ff","opacity":1},"encoding":{"x":{"datum":63.7,"axis":null},"y":{"datum":-1.15,"axis":null}}},
 {"mark":{"type":"text","text":"Thickness of VO","fontSize":22},"encoding":{"x":{"datum":30.41,"axis":null},"y":{"datum":-1.975,"axis":null}}},
 {"mark":{"type":"text","text":"2","fontSize":17},"encoding":{"x":{"datum":57.84,"axis":null},"y":{"datum":-2.075,"axis":null}}},
 {"mark":{"type":"text","text":":","fontSize":22},"encoding":{"x":{"datum":59.63,"axis":null},"y":{"datum":-1.975,"axis":null}}},
 {"mark":{"type":"point","shape":"square","filled":true,"size":400,"color":"#0070C0","opacity":1},"encoding":{"x":{"datum":35.36,"axis":null},"y":{"datum":-2.504,"axis":null}}},
 {"mark":{"type":"point","shape":"triangle-up","filled":true,"size":440,"color":"#4472C4","opacity":1},"encoding":{"x":{"datum":35.12,"axis":null},"y":{"datum":-2.957,"axis":null}}},
 {"mark":{"type":"point","shape":"circle","filled":true,"size":380,"color":"#3B64AD","opacity":1},"encoding":{"x":{"datum":35.12,"axis":null},"y":{"datum":-3.435,"axis":null}}},
 {"mark":{"type":"text","text":"50","fontSize":22,"font":"Liberation Serif","fontWeight":"normal"},"encoding":{"x":{"datum":38.34,"axis":null},"y":{"datum":-2.519,"axis":null}}},
 {"mark":{"type":"text","text":"nm","fontSize":22,"font":"Liberation Serif"},"encoding":{"x":{"datum":42.48,"axis":null},"y":{"datum":-2.519,"axis":null}}},
 {"mark":{"type":"text","text":"100","fontSize":22,"font":"Liberation Serif","fontWeight":"normal"},"encoding":{"x":{"datum":37.73,"axis":null},"y":{"datum":-2.981,"axis":null}}},
 {"mark":{"type":"text","text":"nm","fontSize":22,"font":"Liberation Serif"},"encoding":{"x":{"datum":43.39,"axis":null},"y":{"datum":-2.981,"axis":null}}},
 {"mark":{"type":"text","text":"200","fontSize":22,"font":"Liberation Serif","fontWeight":"normal"},"encoding":{"x":{"datum":37.73,"axis":null},"y":{"datum":-3.445,"axis":null}}},
 {"mark":{"type":"text","text":"nm","fontSize":22,"font":"Liberation Serif"},"encoding":{"x":{"datum":43.39,"axis":null},"y":{"datum":-3.445,"axis":null}}},
 {"mark":{"type":"text","text":"λ= 1.5 μm","fontSize":21,"font":"Liberation Serif","fontWeight":"normal"},"encoding":{"x":{"datum":34.89,"axis":null},"y":{"datum":-3.963,"axis":null}}}
]},
{"width":598,"height":530,"data":{"values":[{}]},"resolve":{"axis":{"x":"independent","y":"independent"}},"layer":[
 {"mark":{"type":"rule","color":"black","strokeWidth":2.5},"encoding":{"x":{"datum":12.59,"axis":null},"x2":{"datum":95.3},"y":{"datum":2.321,"axis":null}}},
 {"mark":{"type":"rect","fillOpacity":0,"stroke":"#444","strokeWidth":1.5},"encoding":{
  "x":{"datum":24,"scale":{"domain":[12.59,95.3],"nice":false,"zero":false},"axis":null},
  "x2":{"datum":90.9},
  "y":{"datum":1,"scale":{"domain":[-6.403,2.321],"nice":false,"zero":false},"axis":null},
  "y2":{"datum":-4.9}}},
 {"data":{"name":"pts"},"transform":[{"filter":"datum.p=='b'"}],"mark":{"type":"line","color":"#555","strokeWidth":0.9,"interpolate":"monotone"},"encoding":{"x":{"field":"T","type":"quantitative","axis":{"orient":"top","offset":-80.25,"values":[30,40,50,60,70,80,90],"labelExpr":"''+(datum.value+273)","title":"T (K)","titleX":324,"titleY":-48}},"y":{"field":"v","type":"quantitative","axis":{"orient":"left","offset":-82.5,"values":[1,0,-1,-2,-3,-4],"labelExpr":"replace(datum.label,'−','-')","title":"dT%/dT","titleX":-43,"titleY":258}},"detail":[{"field":"m","type":"nominal"},{"field":"t","type":"nominal"}]}},
 {"data":{"name":"pts"},"transform":[{"filter":"datum.p=='b'"}],"mark":{"type":"point","filled":true,"size":85,"opacity":1},"encoding":{"x":{"field":"T","type":"quantitative","axis":{"orient":"bottom","offset":-91.3,"values":[30,40,50,60,70,80,90],"title":"T (°C)","titleX":324,"titleY":45}},"y":{"field":"v","type":"quantitative","axis":null},"color":{"field":"m","type":"nominal","scale":{"domain":["H","C"],"range":["#ff0000","#0000ff"]},"legend":null},"shape":{"field":"t","type":"nominal","scale":{"domain":[50,100,200],"range":["square","triangle-up","circle"]},"legend":null}}},
 {"mark":{"type":"text","text":"b)","fontSize":24},"encoding":{"x":{"datum":14.94,"axis":null},"y":{"datum":1.312,"axis":null}}},
 {"mark":{"type":"text","text":"Ir nanoparticle arrays","fontSize":20},"encoding":{"x":{"datum":27.43,"axis":null},"y":{"datum":0.632,"axis":null}}},
 {"mark":{"type":"text","text":"Polystyrene 3 μm","fontSize":17.5},"encoding":{"x":{"datum":61.78,"axis":null},"y":{"datum":0.319,"axis":null}}},
 {"mark":{"type":"text","text":"Heating","fontSize":23,"color":"#ff0000"},"encoding":{"x":{"datum":41.26,"axis":null},"y":{"datum":-0.696,"axis":null}}},
 {"mark":{"type":"rule","color":"#ff0000","strokeWidth":1.2},"encoding":{"x":{"datum":55.56,"axis":null},"x2":{"datum":69.2},"y":{"datum":-0.696,"axis":null}}},
 {"mark":{"type":"point","shape":"triangle-right","filled":true,"size":50,"color":"#ff0000","opacity":1},"encoding":{"x":{"datum":69.6,"axis":null},"y":{"datum":-0.696,"axis":null}}},
 {"mark":{"type":"text","text":"Cooling","fontSize":23,"color":"#0000ff"},"encoding":{"x":{"datum":37.9,"axis":null},"y":{"datum":-1.30,"axis":null}}},
 {"mark":{"type":"rule","color":"#0000ff","strokeWidth":1.2},"encoding":{"x":{"datum":53.85,"axis":null},"x2":{"datum":63.2},"y":{"datum":-1.327,"axis":null}}},
 {"mark":{"type":"point","shape":"triangle-right","filled":true,"size":50,"color":"#0000ff","opacity":1},"encoding":{"x":{"datum":63.6,"axis":null},"y":{"datum":-1.327,"axis":null}}},
 {"mark":{"type":"text","text":"Thickness of VO","fontSize":22},"encoding":{"x":{"datum":30.33,"axis":null},"y":{"datum":-2.206,"axis":null}}},
 {"mark":{"type":"text","text":"2","fontSize":17},"encoding":{"x":{"datum":57.81,"axis":null},"y":{"datum":-2.314,"axis":null}}},
 {"mark":{"type":"text","text":":","fontSize":22},"encoding":{"x":{"datum":59.61,"axis":null},"y":{"datum":-2.206,"axis":null}}},
 {"mark":{"type":"point","shape":"square","filled":true,"size":400,"color":"#0070C0","opacity":1},"encoding":{"x":{"datum":35.27,"axis":null},"y":{"datum":-2.738,"axis":null}}},
 {"mark":{"type":"point","shape":"triangle-up","filled":true,"size":440,"color":"#4472C4","opacity":1},"encoding":{"x":{"datum":35.03,"axis":null},"y":{"datum":-3.248,"axis":null}}},
 {"mark":{"type":"point","shape":"circle","filled":true,"size":380,"color":"#3B64AD","opacity":1},"encoding":{"x":{"datum":34.95,"axis":null},"y":{"datum":-3.758,"axis":null}}},
 {"mark":{"type":"text","text":"50","fontSize":22,"font":"Liberation Serif","fontWeight":"normal"},"encoding":{"x":{"datum":38.17,"axis":null},"y":{"datum":-2.782,"axis":null}}},
 {"mark":{"type":"text","text":"nm","fontSize":22,"font":"Liberation Serif"},"encoding":{"x":{"datum":42.42,"axis":null},"y":{"datum":-2.782,"axis":null}}},
 {"mark":{"type":"text","text":"100","fontSize":22,"font":"Liberation Serif","fontWeight":"normal"},"encoding":{"x":{"datum":37.72,"axis":null},"y":{"datum":-3.276,"axis":null}}},
 {"mark":{"type":"text","text":"nm","fontSize":22,"font":"Liberation Serif"},"encoding":{"x":{"datum":43.33,"axis":null},"y":{"datum":-3.276,"axis":null}}},
 {"mark":{"type":"text","text":"200","fontSize":22,"font":"Liberation Serif","fontWeight":"normal"},"encoding":{"x":{"datum":37.58,"axis":null},"y":{"datum":-3.770,"axis":null}}},
 {"mark":{"type":"text","text":"nm","fontSize":22,"font":"Liberation Serif"},"encoding":{"x":{"datum":43.33,"axis":null},"y":{"datum":-3.770,"axis":null}}},
 {"mark":{"type":"text","text":"λ= 1.5 μm","fontSize":21,"font":"Liberation Serif","fontWeight":"normal"},"encoding":{"x":{"datum":34.81,"axis":null},"y":{"datum":-4.318,"axis":null}}}
]},
{"width":604,"height":508,"data":{"values":[{}]},"resolve":{"axis":{"x":"independent","y":"independent"}},"layer":[
 {"mark":{"type":"rule","color":"black","strokeWidth":2.5},"encoding":{"x":{"datum":12.885,"axis":null},"y":{"datum":-4.014,"axis":null},"y2":{"datum":1.948}}},
 {"mark":{"type":"rule","color":"black","strokeWidth":2.5},"encoding":{"x":{"datum":96.25,"axis":null},"y":{"datum":-4.014,"axis":null},"y2":{"datum":1.948}}},
 {"mark":{"type":"rect","fillOpacity":0,"stroke":"#444","strokeWidth":1.5},"encoding":{
  "x":{"datum":24,"scale":{"domain":[12.885,96.25],"nice":false,"zero":false},"axis":null},
  "x2":{"datum":90.9},
  "y":{"datum":1,"scale":{"domain":[-4.014,1.948],"nice":false,"zero":false},"axis":null},
  "y2":{"datum":-3.25}}},
 {"data":{"name":"pts"},"transform":[{"filter":"datum.p=='c'"}],"mark":{"type":"line","color":"#555","strokeWidth":0.9,"interpolate":"monotone"},"encoding":{"x":{"field":"T","type":"quantitative","axis":{"orient":"top","offset":-80.8,"values":[30,40,50,60,70,80,90],"labelExpr":"''+(datum.value+273)","title":"T (K)","titleX":326,"titleY":-49}},"y":{"field":"v","type":"quantitative","axis":{"orient":"left","offset":-80.5,"values":[1,0,-1,-2,-3],"labelExpr":"replace(datum.label,'−','-')","title":"dT%/dT","titleX":-43,"titleY":253}},"detail":[{"field":"m","type":"nominal"},{"field":"t","type":"nominal"}]}},
 {"data":{"name":"pts"},"transform":[{"filter":"datum.p=='c'"}],"mark":{"type":"point","filled":true,"size":85,"opacity":1},"encoding":{"x":{"field":"T","type":"quantitative","axis":{"orient":"bottom","offset":-65.1,"values":[30,40,50,60,70,80,90],"title":"T (°C)","titleX":326,"titleY":46}},"y":{"field":"v","type":"quantitative","axis":null},"color":{"field":"m","type":"nominal","scale":{"domain":["H","C"],"range":["#ff0000","#0000ff"]},"legend":null},"shape":{"field":"t","type":"nominal","scale":{"domain":[50,100,200],"range":["square","triangle-up","circle"]},"legend":null}}},
 {"mark":{"type":"text","text":"c)","fontSize":24},"encoding":{"x":{"datum":15.33,"axis":null},"y":{"datum":1.241,"axis":null}}},
 {"mark":{"type":"text","text":"Au nanoparticle arrays","fontSize":20},"encoding":{"x":{"datum":27.52,"axis":null},"y":{"datum":0.697,"axis":null}}},
 {"mark":{"type":"text","text":"Polystyrene 2 μm","fontSize":17.5},"encoding":{"x":{"datum":61.66,"axis":null},"y":{"datum":0.384,"axis":null}}},
 {"mark":{"type":"text","text":"Heating","fontSize":23,"color":"#ff0000"},"encoding":{"x":{"datum":38.47,"axis":null},"y":{"datum":-0.399,"axis":null}}},
 {"mark":{"type":"rule","color":"#ff0000","strokeWidth":1.2},"encoding":{"x":{"datum":53.28,"axis":null},"x2":{"datum":63.0},"y":{"datum":-0.446,"axis":null}}},
 {"mark":{"type":"point","shape":"triangle-right","filled":true,"size":50,"color":"#ff0000","opacity":1},"encoding":{"x":{"datum":63.4,"axis":null},"y":{"datum":-0.446,"axis":null}}},
 {"mark":{"type":"text","text":"Cooling","fontSize":23,"color":"#0000ff"},"encoding":{"x":{"datum":37.55,"axis":null},"y":{"datum":-0.758,"axis":null}}},
 {"mark":{"type":"rule","color":"#0000ff","strokeWidth":1.2},"encoding":{"x":{"datum":52.36,"axis":null},"x2":{"datum":57.7},"y":{"datum":-0.782,"axis":null}}},
 {"mark":{"type":"point","shape":"triangle-right","filled":true,"size":50,"color":"#0000ff","opacity":1},"encoding":{"x":{"datum":58.1,"axis":null},"y":{"datum":-0.782,"axis":null}}},
 {"mark":{"type":"text","text":"Thickness of VO","fontSize":22},"encoding":{"x":{"datum":30.41,"axis":null},"y":{"datum":-1.306,"axis":null}}},
 {"mark":{"type":"text","text":"2","fontSize":17},"encoding":{"x":{"datum":57.84,"axis":null},"y":{"datum":-1.385,"axis":null}}},
 {"mark":{"type":"text","text":":","fontSize":22},"encoding":{"x":{"datum":59.63,"axis":null},"y":{"datum":-1.306,"axis":null}}},
 {"mark":{"type":"point","shape":"square","filled":true,"size":400,"color":"#0070C0","opacity":1},"encoding":{"x":{"datum":35.34,"axis":null},"y":{"datum":-1.709,"axis":null}}},
 {"mark":{"type":"point","shape":"triangle-up","filled":true,"size":440,"color":"#4472C4","opacity":1},"encoding":{"x":{"datum":35.11,"axis":null},"y":{"datum":-2.061,"axis":null}}},
 {"mark":{"type":"point","shape":"circle","filled":true,"size":380,"color":"#3B64AD","opacity":1},"encoding":{"x":{"datum":35.11,"axis":null},"y":{"datum":-2.425,"axis":null}}},
 {"mark":{"type":"text","text":"50","fontSize":22,"font":"Liberation Serif","fontWeight":"normal"},"encoding":{"x":{"datum":38.34,"axis":null},"y":{"datum":-1.729,"axis":null}}},
 {"mark":{"type":"text","text":"nm","fontSize":22,"font":"Liberation Serif"},"encoding":{"x":{"datum":42.48,"axis":null},"y":{"datum":-1.729,"axis":null}}},
 {"mark":{"type":"text","text":"100","fontSize":22,"font":"Liberation Serif","fontWeight":"normal"},"encoding":{"x":{"datum":37.73,"axis":null},"y":{"datum":-2.081,"axis":null}}},
 {"mark":{"type":"text","text":"nm","fontSize":22,"font":"Liberation Serif"},"encoding":{"x":{"datum":43.39,"axis":null},"y":{"datum":-2.081,"axis":null}}},
 {"mark":{"type":"text","text":"200","fontSize":22,"font":"Liberation Serif","fontWeight":"normal"},"encoding":{"x":{"datum":37.73,"axis":null},"y":{"datum":-2.433,"axis":null}}},
 {"mark":{"type":"text","text":"nm","fontSize":22,"font":"Liberation Serif"},"encoding":{"x":{"datum":43.39,"axis":null},"y":{"datum":-2.433,"axis":null}}},
 {"mark":{"type":"text","text":"λ= 1.5 μm","fontSize":21,"font":"Liberation Serif","fontWeight":"normal"},"encoding":{"x":{"datum":34.89,"axis":null},"y":{"datum":-2.824,"axis":null}}}
]},
{"width":598,"height":508,"data":{"values":[{}]},"resolve":{"axis":{"x":"independent","y":"independent"}},"layer":[
 {"mark":{"type":"rect","fillOpacity":0,"stroke":"#444","strokeWidth":1.5},"encoding":{
  "x":{"datum":24,"scale":{"domain":[12.59,95.3],"nice":false,"zero":false},"axis":null},
  "x2":{"datum":90.9},
  "y":{"datum":1,"scale":{"domain":[-4.128,1.968],"nice":false,"zero":false},"axis":null},
  "y2":{"datum":-3.25}}},
 {"data":{"name":"pts"},"transform":[{"filter":"datum.p=='d'"}],"mark":{"type":"line","color":"#555","strokeWidth":0.9,"interpolate":"monotone"},"encoding":{"x":{"field":"T","type":"quantitative","axis":{"orient":"top","offset":-80.7,"values":[30,40,50,60,70,80,90],"labelExpr":"''+(datum.value+273)","title":"T (K)","titleX":324,"titleY":-49}},"y":{"field":"v","type":"quantitative","axis":{"orient":"left","offset":-82.5,"values":[1,0,-1,-2,-3],"labelExpr":"replace(datum.label,'−','-')","title":"dT%/dT","titleX":-43,"titleY":250}},"detail":[{"field":"m","type":"nominal"},{"field":"t","type":"nominal"}]}},
 {"data":{"name":"pts"},"transform":[{"filter":"datum.p=='d'"}],"mark":{"type":"point","filled":true,"size":85,"opacity":1},"encoding":{"x":{"field":"T","type":"quantitative","axis":{"orient":"bottom","offset":-73.2,"values":[30,40,50,60,70,80,90],"title":"T (°C)","titleX":324,"titleY":46}},"y":{"field":"v","type":"quantitative","axis":null},"color":{"field":"m","type":"nominal","scale":{"domain":["H","C"],"range":["#ff0000","#0000ff"]},"legend":null},"shape":{"field":"t","type":"nominal","scale":{"domain":[50,100,200],"range":["square","triangle-up","circle"]},"legend":null}}},
 {"mark":{"type":"text","text":"d)","fontSize":24},"encoding":{"x":{"datum":14.66,"axis":null},"y":{"datum":1.244,"axis":null}}},
 {"mark":{"type":"text","text":"Ir nanoparticle arrays","fontSize":20},"encoding":{"x":{"datum":27.43,"axis":null},"y":{"datum":0.641,"axis":null}}},
 {"mark":{"type":"text","text":"Polystyrene 2 μm","fontSize":17.5},"encoding":{"x":{"datum":61.69,"axis":null},"y":{"datum":0.377,"axis":null}}},
 {"mark":{"type":"text","text":"Heating","fontSize":23,"color":"#ff0000"},"encoding":{"x":{"datum":40.35,"axis":null},"y":{"datum":-0.412,"axis":null}}},
 {"mark":{"type":"rule","color":"#ff0000","strokeWidth":1.2},"encoding":{"x":{"datum":54.77,"axis":null},"x2":{"datum":62.8},"y":{"datum":-0.484,"axis":null}}},
 {"mark":{"type":"point","shape":"triangle-right","filled":true,"size":50,"color":"#ff0000","opacity":1},"encoding":{"x":{"datum":63.17,"axis":null},"y":{"datum":-0.484,"axis":null}}},
 {"mark":{"type":"text","text":"Cooling","fontSize":23,"color":"#0000ff"},"encoding":{"x":{"datum":40.11,"axis":null},"y":{"datum":-0.799,"axis":null}}},
 {"mark":{"type":"rule","color":"#0000ff","strokeWidth":1.2},"encoding":{"x":{"datum":54.87,"axis":null},"x2":{"datum":59.8},"y":{"datum":-0.823,"axis":null}}},
 {"mark":{"type":"point","shape":"triangle-right","filled":true,"size":50,"color":"#0000ff","opacity":1},"encoding":{"x":{"datum":60.17,"axis":null},"y":{"datum":-0.823,"axis":null}}},
 {"mark":{"type":"text","text":"Thickness of VO","fontSize":22},"encoding":{"x":{"datum":30.33,"axis":null},"y":{"datum":-1.303,"axis":null}}},
 {"mark":{"type":"text","text":"2","fontSize":17},"encoding":{"x":{"datum":57.81,"axis":null},"y":{"datum":-1.372,"axis":null}}},
 {"mark":{"type":"text","text":":","fontSize":22},"encoding":{"x":{"datum":59.61,"axis":null},"y":{"datum":-1.303,"axis":null}}},
 {"mark":{"type":"point","shape":"square","filled":true,"size":400,"color":"#0070C0","opacity":1},"encoding":{"x":{"datum":35.27,"axis":null},"y":{"datum":-1.699,"axis":null}}},
 {"mark":{"type":"point","shape":"triangle-up","filled":true,"size":440,"color":"#4472C4","opacity":1},"encoding":{"x":{"datum":35.03,"axis":null},"y":{"datum":-2.052,"axis":null}}},
 {"mark":{"type":"point","shape":"circle","filled":true,"size":380,"color":"#3B64AD","opacity":1},"encoding":{"x":{"datum":34.95,"axis":null},"y":{"datum":-2.424,"axis":null}}},
 {"mark":{"type":"text","text":"50","fontSize":22,"font":"Liberation Serif","fontWeight":"normal"},"encoding":{"x":{"datum":38.17,"axis":null},"y":{"datum":-1.72,"axis":null}}},
 {"mark":{"type":"text","text":"nm","fontSize":22,"font":"Liberation Serif"},"encoding":{"x":{"datum":42.42,"axis":null},"y":{"datum":-1.72,"axis":null}}},
 {"mark":{"type":"text","text":"100","fontSize":22,"font":"Liberation Serif","fontWeight":"normal"},"encoding":{"x":{"datum":37.72,"axis":null},"y":{"datum":-2.071,"axis":null}}},
 {"mark":{"type":"text","text":"nm","fontSize":22,"font":"Liberation Serif"},"encoding":{"x":{"datum":43.33,"axis":null},"y":{"datum":-2.071,"axis":null}}},
 {"mark":{"type":"text","text":"200","fontSize":22,"font":"Liberation Serif","fontWeight":"normal"},"encoding":{"x":{"datum":37.58,"axis":null},"y":{"datum":-2.431,"axis":null}}},
 {"mark":{"type":"text","text":"nm","fontSize":22,"font":"Liberation Serif"},"encoding":{"x":{"datum":43.33,"axis":null},"y":{"datum":-2.431,"axis":null}}},
 {"mark":{"type":"text","text":"λ= 1.5 μm","fontSize":21,"font":"Liberation Serif","fontWeight":"normal"},"encoding":{"x":{"datum":34.81,"axis":null},"y":{"datum":-2.824,"axis":null}}}
]}
]
}
